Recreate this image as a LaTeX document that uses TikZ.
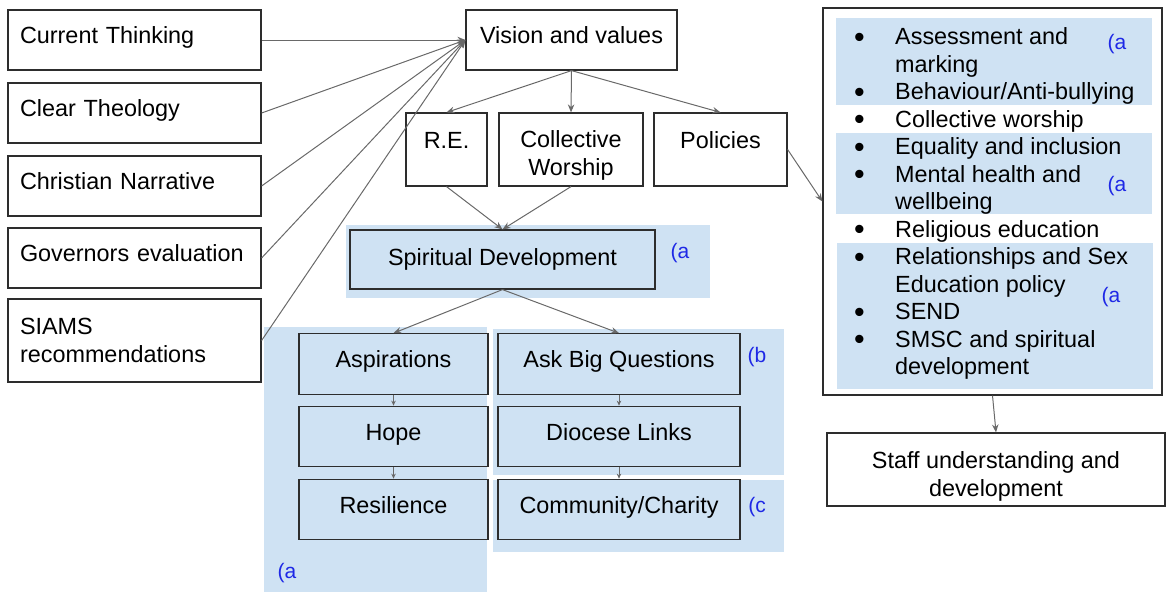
\documentclass[tikz,border=0pt]{standalone}
\usepackage{fontspec}
\setmainfont{Liberation Sans}
\usepackage{tikz}
\usetikzlibrary{arrows.meta, positioning, calc}

\definecolor{boxline}{RGB}{45, 45, 45}
\definecolor{linkgray}{RGB}{105, 105, 105}
\definecolor{shadeblue}{RGB}{207, 226, 243}
\definecolor{noteblue}{RGB}{30, 40, 230}

\newcommand{\boxfont}{\fontsize{23.4}{27.5}\selectfont}
\newcommand{\notefont}{\fontsize{21}{25}\selectfont}
\newcommand{\dotmark}{\makebox[41pt][l]{\smash{\raisebox{-2.5pt}{\scalebox{1.3}{\textbullet}}}}}

\tikzset{
  box/.style={draw=boxline, line width=1.2pt, inner sep=0pt, align=center, font=\boxfont},
  raised/.style={text height=17pt, text depth=11pt},
  leftbox/.style={box, raised, minimum width=253pt, minimum height=60pt, text width=229pt, inner xsep=12pt, align=left},
  lcolbox/.style={box, text height=17pt, text depth=10pt, minimum width=189pt, minimum height=60.5pt},
  rcolbox/.style={box, text height=17pt, text depth=10pt, minimum width=242pt, minimum height=60.5pt},
  note/.style={text=noteblue, font=\notefont, inner sep=0pt},
  link/.style={draw=linkgray, line width=1pt, -{Stealth[length=8pt, width=6.5pt]}},
  shortlink/.style={draw=linkgray, line width=1pt, -{Stealth[length=5pt, width=4.5pt]}},
}

\begin{document}
\begin{tikzpicture}[x=1pt, y=-1pt]
  \useasboundingbox (0,0) rectangle (1166,592);

  % Shaded groups
  \fill[shadeblue] (346,225) rectangle (710,298);
  \fill[shadeblue] (264,327) rectangle (487,592);
  \fill[shadeblue] (493,329) rectangle (784,475);
  \fill[shadeblue] (493,480) rectangle (784,552);
  \fill[shadeblue] (836,18) rectangle (1152,105);
  \fill[shadeblue] (836,133) rectangle (1152,214);
  \fill[shadeblue] (837,243) rectangle (1153,389);

  % Sources on the left
  \node[leftbox] (thinking) at (134.5,40) {Current Thinking};
  \node[leftbox] (theology) at (134.5,113) {Clear Theology};
  \node[leftbox] (narrative) at (134.5,186) {Christian Narrative};
  \node[leftbox] (governors) at (134.5,258) {Governors evaluation};
  \node[leftbox, text height={}, text depth={}, minimum height=83pt] (siams) at (134.5,340.5) {SIAMS\\recommendations};

  % Vision and its three strands
  \node[box, raised, minimum width=211pt, minimum height=60pt] (vision) at (571.5,40) {Vision and values};
  \node[box, minimum width=81pt, minimum height=73pt, text height=29pt, text depth=32pt] (re) at (446.5,149.5) {R.E.};
  \node[box, minimum width=144pt, minimum height=73pt] (worship) at (571,149.5) {\rule{0pt}{29pt}Collective\\Worship};
  \node[box, minimum width=133pt, minimum height=73pt, text height=29pt, text depth=32pt] (policies) at (720.5,149.5) {Policies};

  \draw[link] (thinking.east) -- (vision.west);
  \draw[link] (theology.east) -- (vision.west);
  \draw[link] (narrative.east) -- (vision.west);
  \draw[link] (governors.east) -- (vision.west);
  \draw[link] (siams.east) -- (vision.west);

  \draw[link] (vision.south) -- (re.north);
  \draw[link] (vision.south) -- (worship.north);
  \draw[link] (vision.south) -- (policies.north);

  % Spiritual development
  \node[box, minimum width=305pt, minimum height=59pt] (spiritual) at (502.5,259.5) {Spiritual Development};
  \node[note] (notespirit) at (680,253) {(a};
  \draw[link] (re.south) -- (spiritual.north);
  \draw[link] (worship.south) -- (spiritual.north);

  % Two columns
  \node[lcolbox] (aspirations) at (393.5,364) {Aspirations};
  \node[lcolbox] (hope) at (393.5,436.5) {Hope};
  \node[lcolbox] (resilience) at (393.5,509.5) {Resilience};
  \node[note] (noteleft) at (287,573) {(a};

  \node[rcolbox] (questions) at (619,364) {Ask Big Questions};
  \node[rcolbox] (diocese) at (619,436.5) {Diocese Links};
  \node[rcolbox] (community) at (619,509.5) {Community/Charity};
  \node[note] (noteb) at (757,357) {(b};
  \node[note] (notec) at (757,507) {(c};

  \draw[link] (spiritual.south) -- (aspirations.north);
  \draw[link] (spiritual.south) -- (questions.north);
  \draw[shortlink] (aspirations.south) -- (hope.north);
  \draw[shortlink] (hope.south) -- (resilience.north);
  \draw[shortlink] (questions.south) -- (diocese.north);
  \draw[shortlink] (diocese.south) -- (community.north);

  % Policy list
  \node[box, minimum width=339pt, minimum height=387pt] (policylist) at (992.5,201.5) {};
  \node[anchor=north west, inner sep=0pt, font=\boxfont, align=left] (items) at (854,25.5) {%
    \begin{tabular}{@{}l@{}l@{}}
      \dotmark & Assessment and \\
               & marking \\
      \dotmark & Behaviour/Anti-bullying \\
      \dotmark & Collective worship \\
      \dotmark & Equality and inclusion \\
      \dotmark & Mental health and \\
               & wellbeing \\
      \dotmark & Religious education \\
      \dotmark & Relationships and Sex \\
               & Education policy \\
      \dotmark & SEND \\
      \dotmark & SMSC and spiritual \\
               & development
    \end{tabular}};
  \node[note] (notepol1) at (1117,44) {(a};
  \node[note] (notepol2) at (1117,186) {(a};
  \node[note] (notepol3) at (1111,297) {(a};

  \node[box, minimum width=338pt, minimum height=73pt] (staff) at (996,469.5) {\rule{0pt}{31pt}Staff understanding and\\development};

  \draw[link] (policies.east) -- (policylist.west);
  \draw[link] (policylist.south) -- (staff.north);
\end{tikzpicture}
\end{document}
